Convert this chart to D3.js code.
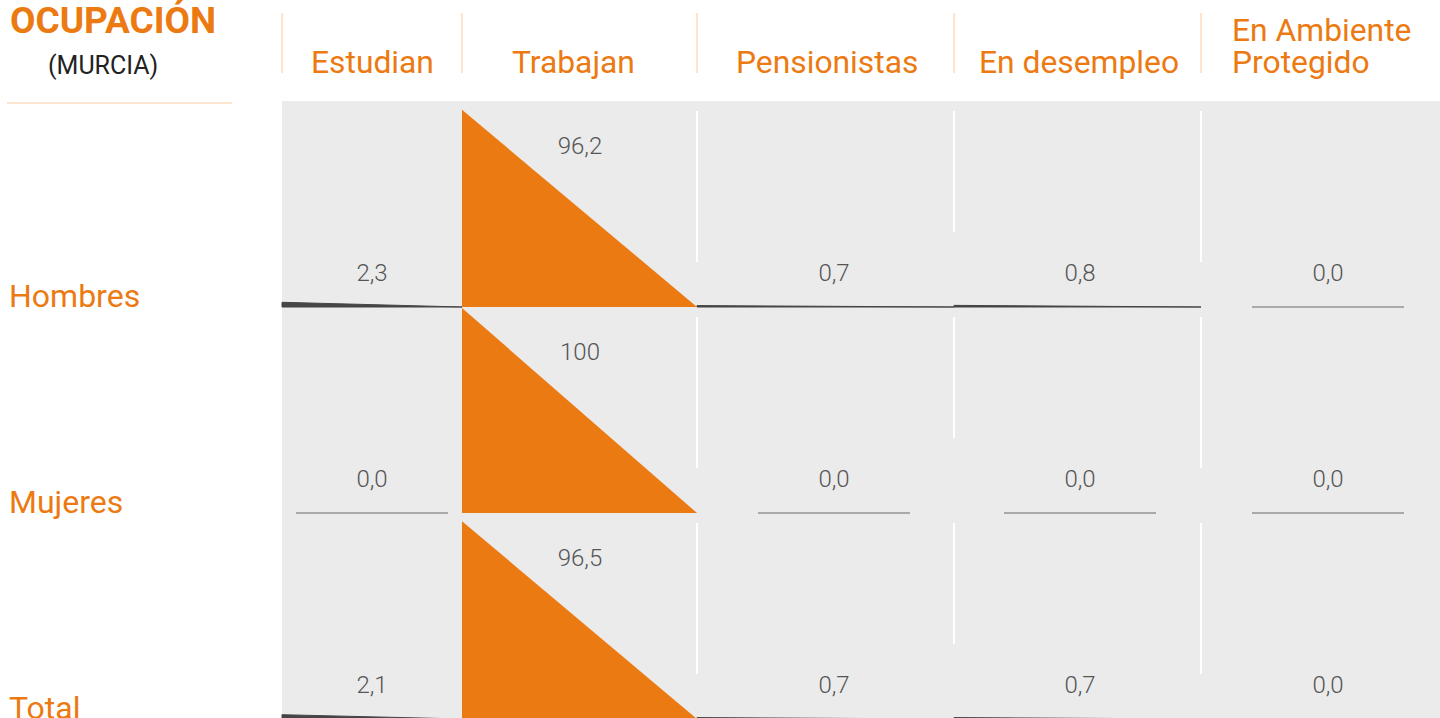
<!DOCTYPE html>
<html>
<head>
<meta charset="utf-8">
<script src="https://cdn.jsdelivr.net/npm/d3@7"></script>
<style>
  body { margin: 0; background: #fff; overflow: hidden; }
  text { font-family: Roboto, "Noto Sans", sans-serif; }
</style>
</head>
<body>
<script>
// data
let categories = ["Estudian", "Trabajan", "Pensionistas", "En desempleo", "En Ambiente Protegido"];
let groups = ["Hombres", "Mujeres", "Total"];
let hombres = [2.3, 96.2, 0.7, 0.8, 0.0];
let mujeres = [0.0, 100, 0.0, 0.0, 0.0];
let total = [2.1, 96.5, 0.7, 0.7, 0.0];
let series = [hombres, mujeres, total];

// layout (not data)
let w = 1440, h = 718;
let colEdges = [282, 462, 697, 954, 1201, 1453];
let labelCenters = [372, 580, 834, 1080, 1328];
let headerLeft = [311, 512, 736, 979, 1232];
let orange = "#ec7a12";

let fmt = d3.formatLocale({decimal: ",", thousands: ".", grouping: [3], currency: ["", "€"]});
function label(v) { return v === 100 ? "100" : fmt.format(".1f")(v); }

let svg = d3.select("body")
            .append("svg")
            .attr("width", w)
            .attr("height", h);

// row baselines
let y = d3.scalePoint().domain(groups).range([307, 719]);
let hScale = d3.scaleLinear().domain([0, 100]).range([0, 205]);

// gray panel
svg.append("rect")
  .attr("x", 282).attr("y", 101)
  .attr("width", w - 282).attr("height", h - 101)
  .attr("fill", "#ebebeb");

// title
svg.append("text")
  .attr("x", 10).attr("y", 33)
  .attr("font-size", 37).attr("font-weight", 700)
  .attr("fill", orange)
  .text("OCUPACIÓN");
svg.append("text")
  .attr("x", 48).attr("y", 74)
  .attr("font-size", 25)
  .attr("fill", "#222")
  .text("(MURCIA)");
svg.append("line")
  .attr("x1", 7).attr("x2", 232).attr("y1", 103).attr("y2", 103)
  .attr("stroke", "#fde4cf").attr("stroke-width", 2);

// header separators
svg.selectAll("line.sep")
  .data(colEdges.slice(0, 5))
  .enter()
  .append("line")
    .attr("class", "sep")
    .attr("x1", d => d).attr("x2", d => d)
    .attr("y1", 13).attr("y2", 73)
    .attr("stroke", "#fde4cf").attr("stroke-width", 2);

// header labels, long ones wrapped on two lines
let headLines = [];
categories.forEach((d, i) => {
  let words = d.split(" ");
  let lines = d.length > 14 ? [words.slice(0, 2).join(" "), words.slice(2).join(" ")] : [d];
  lines.forEach((ln, k) => headLines.push({text: ln, i: i, k: k, n: lines.length}));
});
svg.selectAll("text.head")
  .data(headLines)
  .enter()
  .append("text")
    .attr("class", "head")
    .attr("x", d => headerLeft[d.i])
    .attr("y", d => 73 - (d.n - 1 - d.k) * 32)
    .attr("font-size", 31.8)
    .attr("fill", orange)
    .text(d => d.text);

// white decorative separators inside the panel
groups.forEach((g) => {
  let base = y(g);
  svg.selectAll(null)
    .data(colEdges.slice(2, 5))
    .enter()
    .append("line")
      .attr("x1", d => d).attr("x2", d => d)
      .attr("y1", base - 196).attr("y2", (d, i) => base - (i === 1 ? 75 : 45))
      .attr("stroke", "#fff").attr("stroke-width", 2);
});

// row labels
svg.selectAll("text.row")
  .data(groups)
  .enter()
  .append("text")
    .attr("class", "row")
    .attr("x", 9)
    .attr("y", d => y(d))
    .attr("font-size", 32)
    .attr("fill", orange)
    .text(d => d);

// triangles and values
series.forEach((vals, r) => {
  let base = y(groups[r]);
  let cells = vals.map((v, i) => ({v: v, i: i}));

  svg.selectAll(null)
    .data(cells.filter(d => d.v > 0))
    .enter()
    .append("path")
      .attr("d", d => {
        let x0 = colEdges[d.i], x1 = colEdges[d.i + 1];
        if (d.i === 4) x1 = colEdges[4] + 247;
        return "M" + x0 + "," + base + "L" + x0 + "," + (base - hScale(d.v)) + "L" + x1 + "," + base + "Z";
      })
      .attr("fill", d => d.v > 50 ? orange : "#454545")
      .attr("stroke", d => d.v > 50 ? "none" : "#454545")
      .attr("stroke-width", 1);

  // zero lines
  svg.selectAll(null)
    .data(cells.filter(d => d.v === 0))
    .enter()
    .append("line")
      .attr("x1", d => labelCenters[d.i] - 76)
      .attr("x2", d => labelCenters[d.i] + 76)
      .attr("y1", base).attr("y2", base)
      .attr("stroke", "#aaaaaa").attr("stroke-width", 2);

  svg.selectAll(null)
    .data(cells)
    .enter()
    .append("text")
      .attr("x", d => labelCenters[d.i])
      .attr("y", d => d.v > 50 ? base - 153 : base - 26)
      .attr("text-anchor", "middle")
      .attr("font-size", 24)
      .attr("font-weight", 300)
      .attr("fill", "#555")
      .text(d => label(d.v));
});
</script>
</body>
</html>
